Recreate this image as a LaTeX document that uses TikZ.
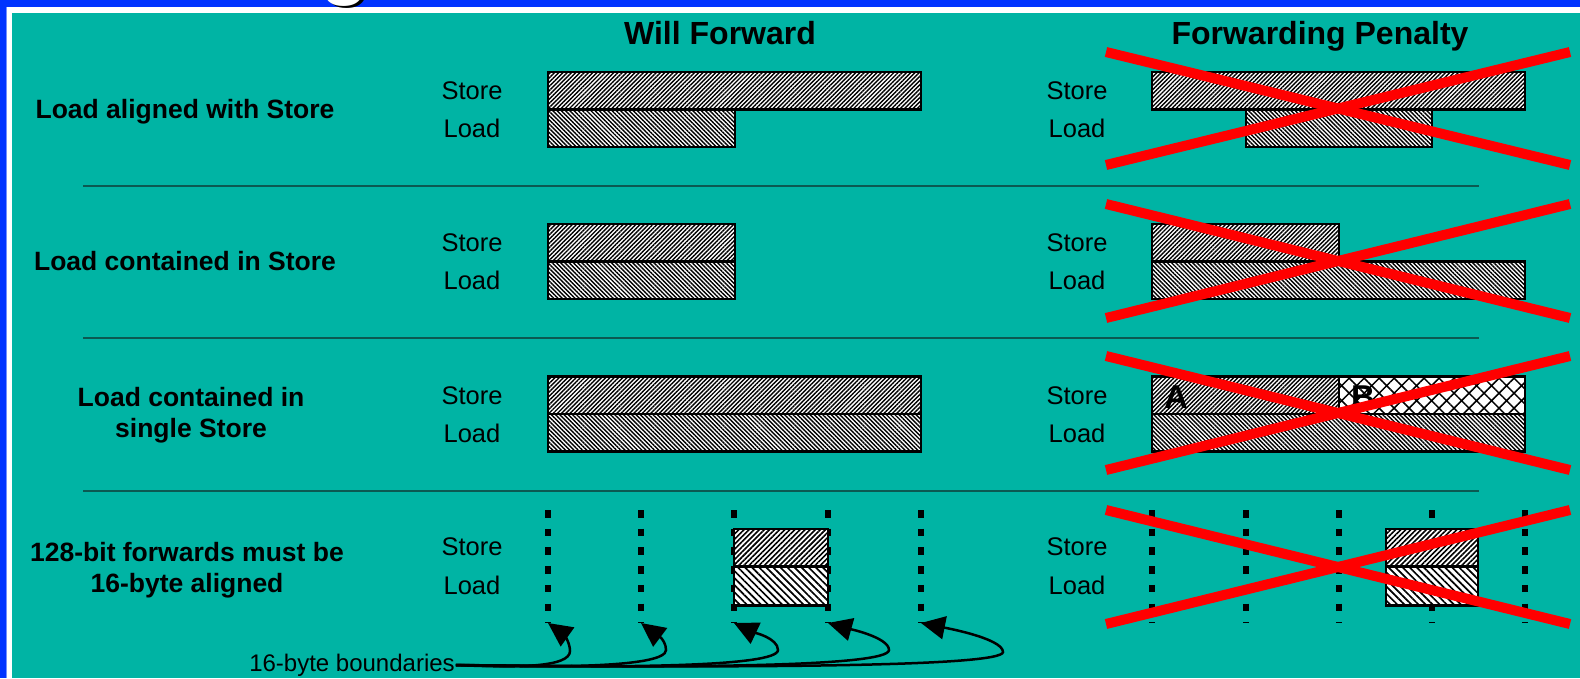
\documentclass[tikz,border=0pt]{standalone}
\usepackage{fontspec}
\setmainfont{Liberation Sans}
\usetikzlibrary{patterns.meta, arrows.meta}

\definecolor{slideteal}{HTML}{00B4A4}
\definecolor{slideblue}{HTML}{0033FF}
\definecolor{divteal}{HTML}{0B5A52}

\tikzstyle{heading} = [font=\fontsize{32}{36}\selectfont\bfseries, inner sep=0, anchor=base]
\tikzstyle{case} = [font=\fontsize{26.5}{31}\selectfont\bfseries, align=center, inner sep=0]
\tikzstyle{side} = [font=\fontsize{25.5}{30}\selectfont, inner sep=0]
\tikzstyle{note} = [font=\fontsize{24}{28}\selectfont, inner sep=1pt]
\tikzstyle{titleg} = [font=\fontsize{80}{80}\selectfont\bfseries, anchor=base, inner sep=0]
\tikzstyle{membar} = [rectangle, draw, line width=2.7pt, anchor=north west, inner sep=0, outer sep=0, minimum height=37.5pt, preaction={fill=white}]
\tikzstyle{storebar} = [membar, pattern={Lines[angle=45,distance=3pt,line width=1.4pt]}]
\tikzstyle{loadbar} = [membar, pattern={Lines[angle=-45,distance=3pt,line width=1.4pt]}]
\tikzstyle{otherbar} = [membar, pattern={Hatch[angle=45,distance=10.6pt,line width=1.5pt]}]
\tikzstyle{wstore} = [membar, pattern={Lines[angle=45,distance=3.6pt,line width=1.6pt]}]
\tikzstyle{wload} = [membar, pattern={Lines[angle=-45,distance=5pt,line width=1.7pt]}]
\tikzstyle{divider} = [draw=divteal, line width=1.5pt]
\tikzstyle{boundary} = [draw, line width=5.5pt, dash pattern=on 7.5pt off 11.2pt]
\tikzstyle{curl} = [draw, line width=2.5pt, -{Triangle[length=24pt,width=23pt]}]
\tikzstyle{veto} = [draw=red, line width=10pt]

\begin{document}
\begin{tikzpicture}[x=1pt, y=-1pt]
\useasboundingbox (0,0) rectangle (1580,678);

% slide frame
\fill [white] (0,0) rectangle (1580,678);
\fill [slideblue] (0,0) rectangle (1580,7.3);
\fill [slideblue] (0,0) rectangle (5.7,678);
\fill [slideblue!55!white] (5.7,7.3) rectangle (6.7,678);
\fill [slideteal] (12,13.3) rectangle (1580,678);
\begin{scope}
\clip (0,0) rectangle (1580,7.3);
\node [titleg, text=black] (gshade) at (348,-9) {g};
\node [titleg, text=white] (gtail) at (345,-11) {g};
\end{scope}

% column headings
\node [heading] (will) at (720,44.5) {Will Forward};
\node [heading] (penalty) at (1320,44.5) {Forwarding Penalty};

% row captions
\node [case] (aligned) at (185,112) {Load aligned with Store};
\node [case] (contained) at (185,261) {Load contained in Store};
\node [case] (single) at (191,415) {Load contained in\\single Store};
\node [case] (wide) at (187,570) {128-bit forwards must be\\16-byte aligned};

\path [divider] (83,186) -- (1479,186);
\path [divider] (83,338) -- (1479,338);
\path [divider] (83,491) -- (1479,491);

% store / load tags
\node [side] (ws1) at (472,91) {Store};
\node [side] (wl1) at (472,128) {Load};
\node [side] (ws2) at (472,243) {Store};
\node [side] (wl2) at (472,280) {Load};
\node [side] (ws3) at (472,396) {Store};
\node [side] (wl3) at (472,433) {Load};
\node [side] (ws4) at (472,547) {Store};
\node [side] (wl4) at (472,585) {Load};
\node [side] (ps1) at (1077,91) {Store};
\node [side] (pl1) at (1077,128) {Load};
\node [side] (ps2) at (1077,243) {Store};
\node [side] (pl2) at (1077,280) {Load};
\node [side] (ps3) at (1077,396) {Store};
\node [side] (pl3) at (1077,433) {Load};
\node [side] (ps4) at (1077,547) {Store};
\node [side] (pl4) at (1077,585) {Load};

% 16-byte boundaries
\coordinate (b1) at (548,623);
\coordinate (b2) at (641,623);
\coordinate (b3) at (734,623);
\coordinate (b4) at (828,623);
\coordinate (b5) at (921,623);
\path [boundary] (548,510) -- (b1);
\path [boundary] (641,510) -- (b2);
\path [boundary] (734,510) -- (b3);
\path [boundary] (828,510) -- (b4);
\path [boundary] (921,510) -- (b5);
\path [boundary] (1152,510) -- (1152,623);
\path [boundary] (1246,510) -- (1246,623);
\path [boundary] (1339,510) -- (1339,623);
\path [boundary] (1432,510) -- (1432,623);
\path [boundary] (1525,510) -- (1525,623);

% will forward
\node [storebar, minimum width=373pt] (wstore1) at (548,72) {};
\node [loadbar, minimum width=187pt] (wload1) at (548,109.5) {};
\node [storebar, minimum width=187pt] (wstore2) at (548,224) {};
\node [loadbar, minimum width=187pt] (wload2) at (548,261.5) {};
\node [storebar, minimum width=373pt] (wstore3) at (548,376.5) {};
\node [loadbar, minimum width=373pt] (wload3) at (548,414) {};
\node [wstore, minimum width=94pt] (wstore4) at (734,529) {};
\node [wload, minimum width=94pt, minimum height=39pt] (wload4) at (734,566.5) {};

% forwarding penalty
\node [storebar, minimum width=373pt] (pstore1) at (1152,72) {};
\node [loadbar, minimum width=186pt] (pload1) at (1246,109.5) {};
\node [storebar, minimum width=187pt] (pstore2) at (1152,224) {};
\node [loadbar, minimum width=373pt] (pload2) at (1152,261.5) {};
\node [storebar, minimum width=187pt] (pstoreA) at (1152,376.5) {};
\node [otherbar, minimum width=186pt] (pstoreB) at (1339,376.5) {};
\node [loadbar, minimum width=373pt] (pload3) at (1152,414) {};
\node [wstore, minimum width=92pt] (pstore4) at (1386,529) {};
\node [wload, minimum width=92pt, minimum height=39pt] (pload4) at (1386,566.5) {};
\node [heading, font=\fontsize{33}{36}\selectfont\bfseries, anchor=west] (partA) at (1164,397) {A};
\node [heading, font=\fontsize{33}{36}\selectfont\bfseries, anchor=west] (partB) at (1351,397) {B};

\path [veto] (1106,52) -- (1570,165);
\path [veto] (1106,165) -- (1570,52);
\path [veto] (1106,204) -- (1570,318);
\path [veto] (1106,318) -- (1570,204);
\path [veto] (1106,356) -- (1570,470);
\path [veto] (1106,470) -- (1570,356);
\path [veto] (1106,510) -- (1570,624);
\path [veto] (1106,624) -- (1570,510);

% pointers to the boundaries
\node [note] (bound) at (352,665) {16-byte boundaries};
\path [curl] (bound.east) .. controls (520,668) and (570,667) .. (570,651) .. controls (570,641) and (562,633) .. (b1);
\path [curl] (bound.east) .. controls (560,668) and (666,667) .. (666,650) .. controls (666,638) and (653,632) .. (b2);
\path [curl] (bound.east) .. controls (620,668) and (778,667) .. (778,650) .. controls (778,638) and (753,632) .. (b3);
\path [curl] (bound.east) .. controls (680,668) and (889,667) .. (889,650) .. controls (889,637) and (846,628) .. (b4);
\path [curl] (bound.east) .. controls (740,668) and (1003,667) .. (1003,652) .. controls (1003,638) and (941,627) .. (b5);

\end{tikzpicture}
\end{document}
